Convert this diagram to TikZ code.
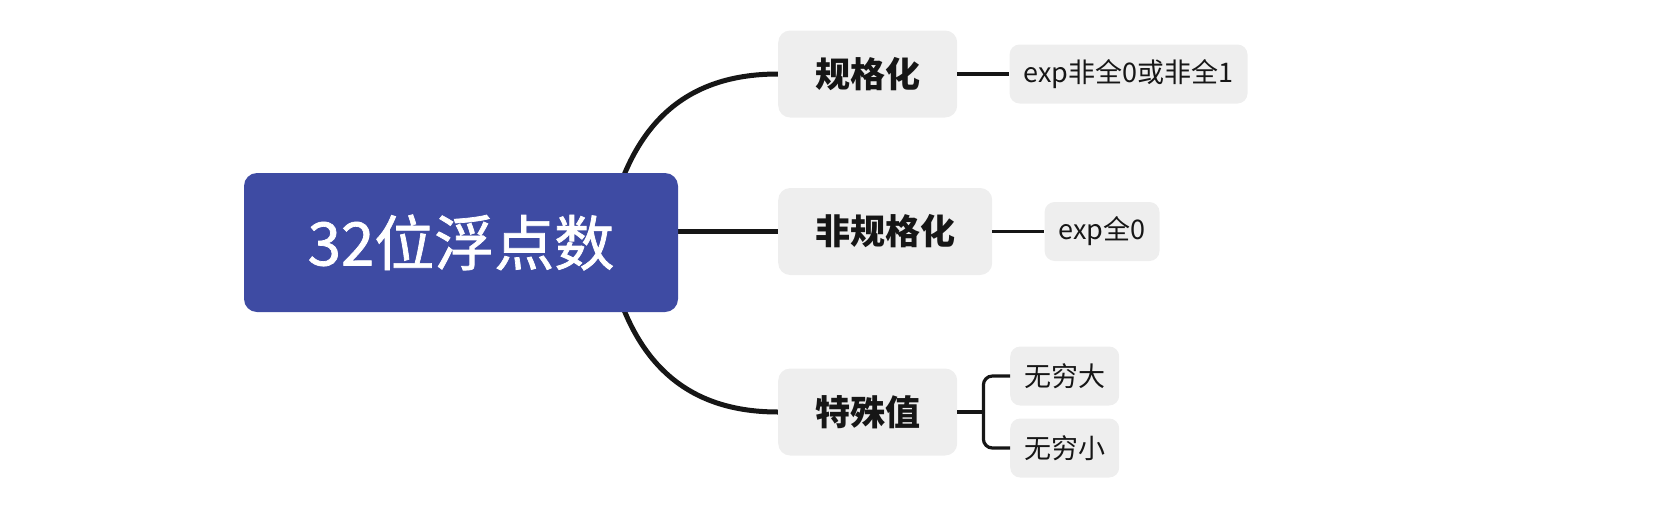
\documentclass[tikz,border=0pt]{standalone}
\usepackage{fontspec}
\setmainfont{Noto Sans CJK SC}
\newfontfamily\rootfont{Noto Sans CJK SC}[FakeBold=1.2]
\usetikzlibrary{positioning,backgrounds}
\definecolor{rootblue}{RGB}{62,75,163}
\definecolor{boxgrey}{RGB}{238,238,238}
\definecolor{inkdark}{RGB}{22,22,22}

\begin{document}
\begin{tikzpicture}[x=1pt, y=-1pt,
    rootbox/.style={rectangle, rounded corners=13pt, fill=rootblue, text=white,
        minimum width=434pt, minimum height=139pt, font=\rootfont\fontsize{60}{64}\selectfont},
    topicbox/.style={rectangle, rounded corners=12pt, fill=boxgrey, text=inkdark,
        inner xsep=37pt, minimum height=87pt, font=\fontsize{35}{40}\selectfont\bfseries},
    leafbox/.style={rectangle, rounded corners=10pt, fill=boxgrey, text=inkdark,
        inner xsep=14pt, minimum height=59pt, font=\fontsize{27}{30}\selectfont},
    branch/.style={draw=inkdark, line width=5pt},
    twig/.style={draw=inkdark, line width=3.2pt},
]
    \useasboundingbox (0,0) rectangle (1674,512);
    % main topic and subtopics
    \node[rootbox] (root) at (461,242.5) {32位浮点数};
    \node[topicbox, anchor=west] (norm) at (778,74) {规格化};
    \node[topicbox, anchor=west] (denorm) at (778,231.5) {非规格化};
    \node[topicbox, anchor=west] (special) at (778,412) {特殊值};
    % leaves
    \node[leafbox, right=52pt of norm] (normexp) {exp非全0或非全1};
    \node[leafbox, right=52pt of denorm] (denormexp) {exp全0};
    \node[leafbox, anchor=west] (posinf) at (1010,376) {无穷大};
    \node[leafbox, anchor=west] (neginf) at (1010,448) {无穷小};
    \coordinate (hub) at ([xshift=-73pt]root.east);
    \coordinate (fork) at ([xshift=26pt]special.east);
    \begin{scope}[on background layer]
        \draw[branch] (hub) .. controls +(20,-113) and +(-98,0) .. (norm.west);
        \draw[branch] (hub) .. controls +(20,113) and +(-98,0) .. (special.west);
        \draw[branch] (root.east |- denorm.west) -- (denorm.west);
    \end{scope}
    \draw[twig] (norm) -- (normexp);
    \draw[twig] (denorm) -- (denormexp);
    \draw[twig] (special) -- (fork);
    \draw[twig, rounded corners=9pt] (fork) |- (posinf.west);
    \draw[twig, rounded corners=9pt] (fork) |- (neginf.west);
\end{tikzpicture}
\end{document}
